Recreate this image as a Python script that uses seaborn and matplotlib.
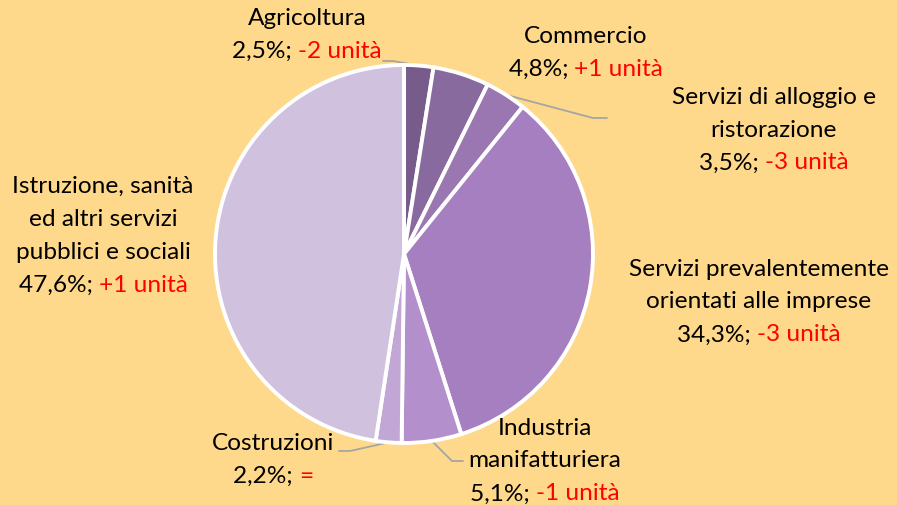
import matplotlib
matplotlib.use('Agg')
import matplotlib.pyplot as plt
import seaborn as sns
import numpy as np
from matplotlib.offsetbox import TextArea, HPacker, VPacker, AnnotationBbox

sns.set_theme(style="white")
plt.rcParams['font.family'] = ['Lato', 'DejaVu Sans']

# data
sectors = [
    ["Agricoltura"],
    ["Commercio"],
    ["Servizi di alloggio e", "ristorazione"],
    ["Servizi prevalentemente", "orientati alle imprese"],
    ["Industria", "manifatturiera"],
    ["Costruzioni"],
    ["Istruzione, sanità", "ed altri servizi", "pubblici e sociali"],
]
shares = [2.5, 4.8, 3.5, 34.3, 5.1, 2.2, 47.6]
share_labels = ["2,5%;", "4,8%;", "3,5%;", "34,3%;", "5,1%;", "2,2%;", "47,6%;"]
changes = ["-2 unità", "+1 unità", "-3 unità", "-3 unità", "-1 unità", "=", "+1 unità"]

colors = ["#765B8B", "#886A9E", "#9A77B1", "#A57FBF", "#B38FCB", "#C2A6D5", "#D0C1DF"]
bg = "#FFD98B"

W, H = 897, 506
fig = plt.figure(figsize=(W / 100, H / 100), dpi=100, facecolor=bg)
ax = fig.add_axes([0, 0, 1, 1])
ax.set_facecolor(bg)

cx, cy, r = 404, H - 255, 189
wedges, _ = ax.pie(shares, colors=colors, startangle=90, counterclock=False,
                   center=(cx, cy), radius=r, frame=True,
                   wedgeprops=dict(edgecolor='white', linewidth=2.8))
ax.set_xlim(0, W)
ax.set_ylim(0, H)
ax.set_aspect('equal')
ax.axis('off')

# label centres (pixel coords, y from top)
label_pos = [(307, 35), (586, 53), (774, 130), (759, 302), (545, 461), (273, 460), (103, 236)]

fs = 17.6
line_sep = 8.6
for i, (lines, pct, chg) in enumerate(zip(sectors, share_labels, changes)):
    rows = [TextArea(t, textprops=dict(color='black', fontsize=fs)) for t in lines]
    last = HPacker(children=[
        TextArea(pct + " ", textprops=dict(color='black', fontsize=fs)),
        TextArea(chg, textprops=dict(color='#FF0000', fontsize=fs)),
    ], pad=0, sep=0, align='baseline')
    rows.append(last)
    box = VPacker(children=rows, pad=0, sep=line_sep, align='center')
    x, y = label_pos[i]
    ab = AnnotationBbox(box, (x, H - y), xycoords='data', frameon=False,
                        box_alignment=(0.5, 0.5))
    ax.add_artist(ab)

# leader lines: from wedge edge midpoint to label elbow
elbows = {
    0: [(393, 62), (383, 62)],
    2: [(593, 119), (607, 119)],
    4: [(452, 462), (463, 462)],
    5: [(350, 452), (339, 452)],
}
for i, pts in elbows.items():
    w = wedges[i]
    ang = np.deg2rad((w.theta1 + w.theta2) / 2)
    x0 = cx + r * np.cos(ang)
    y0 = cy + r * np.sin(ang)
    xs = [x0] + [p[0] for p in pts]
    ys = [y0] + [H - p[1] for p in pts]
    ax.plot(xs, ys, color='#A5A5A5', lw=1.3, zorder=0.5)

fig.savefig("out.png", dpi=100, facecolor=bg)
